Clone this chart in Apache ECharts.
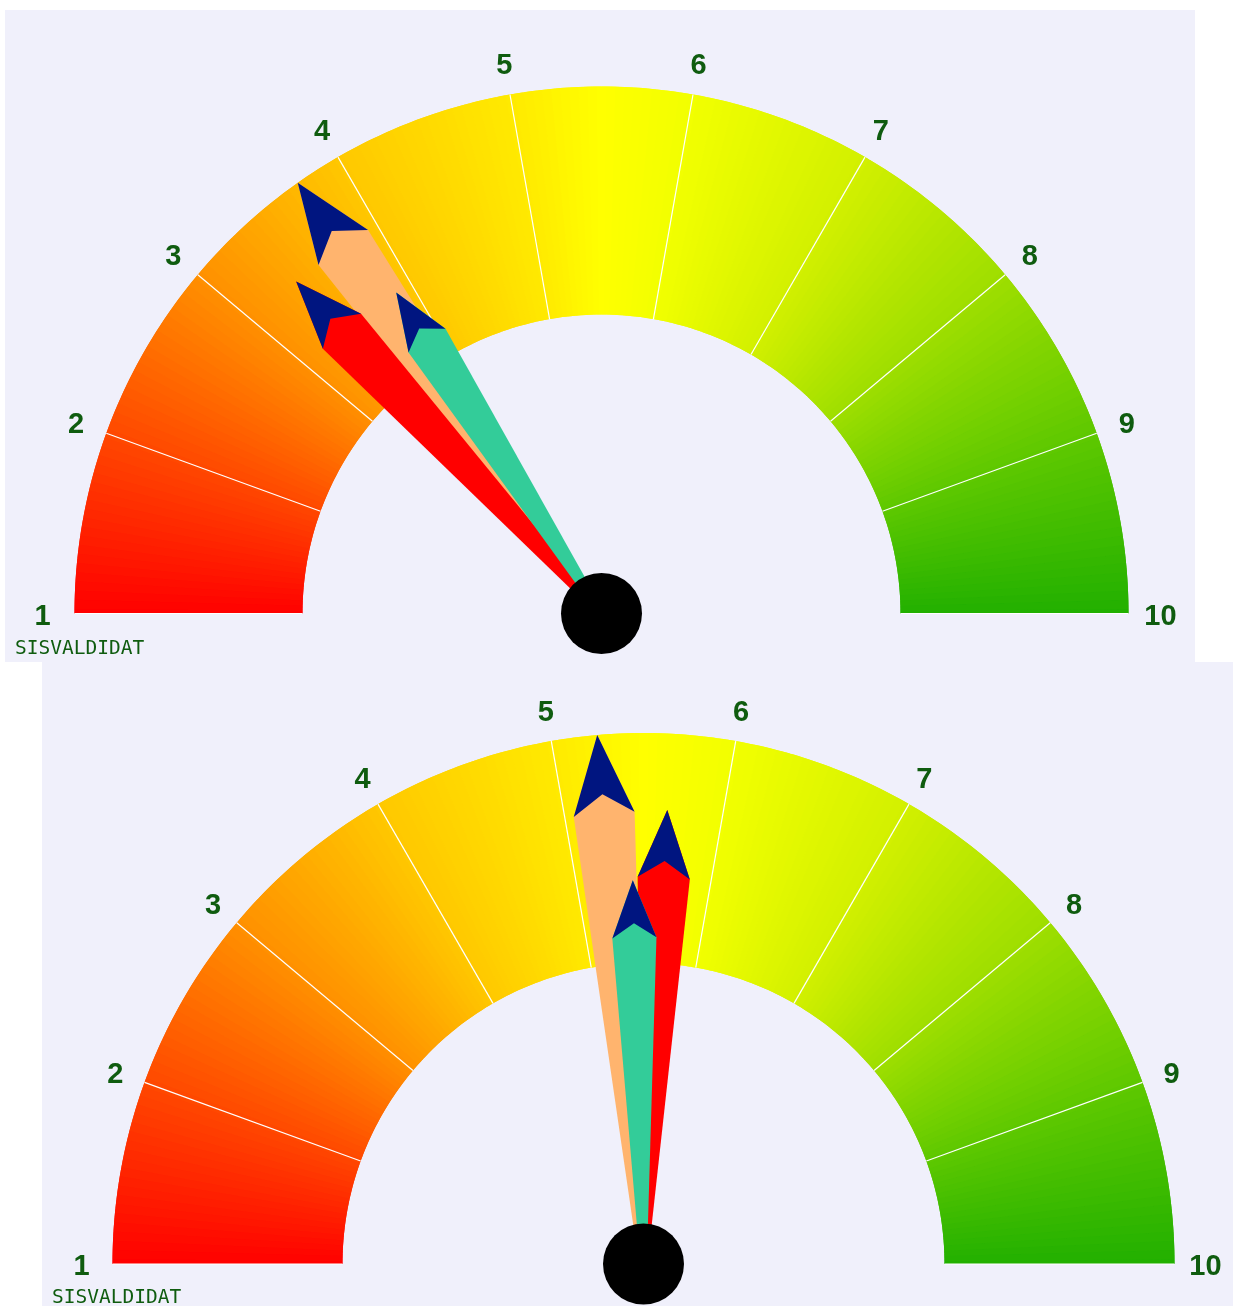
<!DOCTYPE html>
<html><head><meta charset="utf-8">
<script src="https://cdn.jsdelivr.net/npm/echarts@6/dist/echarts.min.js"></script>
<style>
html,body{margin:0;padding:0;background:#ffffff;width:1233px;height:1306px;overflow:hidden}
.panel{position:absolute}
</style></head><body>
<div id="g1" class="panel" style="left:5px;top:10px;width:1190px;height:652px"></div>
<div id="g2" class="panel" style="left:42px;top:662px;width:1191px;height:644px"></div>
<script>
// ---- data ----
const axisMin = 1;
const axisMax = 10;
const tickLabels = ['1', '2', '3', '4', '5', '6', '7', '8', '9', '10'];
const pointerNames = ['A', 'B', 'C'];
const gauge1Values = [3.74, 3.37, 3.87];
const gauge2Values = [5.25, 5.65, 5.42];
const gaugeCaption = 'SISVALDIDAT';

// ---- style ----
const bandColorStops = [
  [1, '#ff0000'], [2, '#ff4800'], [3, '#ff9000'], [4, '#ffc800'],
  [5, '#ffea00'], [5.5, '#ffff00'], [6, '#f2ff00'], [7, '#d2f000'],
  [8, '#9ede00'], [9, '#5ec800'], [10, '#22b000']
];
const pointerColors = ['#ffb46e', '#ff0000', '#33cc99'];
const pointerLenRatio = [1.0, 0.856, 0.723];
const headColor = '#001580';
const textColor = '#0f5c0f';
const bgColor = '#f0f0fb';
const labelFont = { fontSize: 29, fontFamily: 'Liberation Sans', fontWeight: 'bold' };

function hexToRgb(h) { return [1, 3, 5].map(i => parseInt(h.slice(i, i + 2), 16)); }
function colorAt(v) {
  v = Math.max(axisMin, Math.min(axisMax, v));
  for (let i = 0; i < bandColorStops.length - 1; i++) {
    const [v0, c0] = bandColorStops[i], [v1, c1] = bandColorStops[i + 1];
    if (v >= v0 && v <= v1) {
      const t = (v - v0) / (v1 - v0);
      const a = hexToRgb(c0), b = hexToRgb(c1);
      const m = a.map((x, k) => Math.round(x + (b[k] - x) * t));
      return 'rgb(' + m.join(',') + ')';
    }
  }
  return bandColorStops[bandColorStops.length - 1][1];
}
// shift = 0 or 0.5 : two layers with offset seams so no hairlines show
function bandColors(shift) {
  const N = 180, arr = [];
  for (let i = 0; i <= N; i++) {
    const end = Math.min(1, (i + shift) / N);
    if (end <= 0) continue;
    const v = axisMin + (axisMax - axisMin) * Math.max(0, (i + shift - 0.5) / N);
    arr.push([end, colorAt(v)]);
    if (end >= 1) break;
  }
  if (arr[arr.length - 1][0] < 1) arr.push([1, colorAt(axisMax)]);
  return arr;
}

// The gauge aligns its labels inward; padding per label re-centres each one
// on the label circle (extra = how far beyond the target circle the anchor sits).
function labelRich(extra, lift) {
  const rich = {};
  tickLabels.forEach((t, i) => {
    const th = (180 - 180 * i / (tickLabels.length - 1)) * Math.PI / 180;
    const ux = Math.cos(th), uy = -Math.sin(th);
    const dx = -extra * ux, dy = -extra * uy + lift;
    const tw = 16.1 * t.length, tH = 29;
    let pl = 0, pr = 0, pt = 0, pb = 0;
    if (ux < -0.4) pl = dx - tw / 2;
    else if (ux > 0.4) pr = -dx - tw / 2;
    else if (dx > 0) pl = 2 * dx; else pr = -2 * dx;
    if (uy < -0.8) pt = dy - tH / 2;
    else if (uy > 0.8) pb = -dy - tH / 2;
    else if (dy > 0) pt = 2 * dy; else pb = -2 * dy;
    rich['t' + i] = Object.assign({
      color: textColor,
      padding: [pt, pr, pb, pl].map(x => Math.max(0, Math.round(x * 10) / 10))
    }, labelFont);
  });
  return rich;
}

const BODY = 'path://M49 1000 L0 150 L57.5 0 L115 150 L66 1000 Z';
const HEAD = 'path://M57 1000 L58 1000 L57.5 999 Z M0 150 L57.5 0 L115 150 L57.5 112 Z';

function base(geo) {
  return {
    type: 'gauge', center: [geo.cx, geo.cy], radius: geo.r,
    startAngle: 180, endAngle: 0, min: axisMin, max: axisMax, splitNumber: 9,
    animation: false, title: { show: false }, detail: { show: false },
    axisTick: { show: false }, progress: { show: false }
  };
}

function makeOption(values, geo) {
  const series = [];
  const EXTRA = 30;
  [0, 0.5].forEach((shift, k) => {
    series.push(Object.assign(base(geo), {
      axisLine: { show: true, roundCap: false, lineStyle: { width: geo.w, color: bandColors(shift) } },
      splitLine: k === 1
        ? { show: true, distance: -geo.w, length: geo.w, lineStyle: { color: '#ffffff', width: 1.2 } }
        : { show: false },
      axisLabel: k === 1 ? Object.assign({
        show: true, distance: -(geo.gap + EXTRA), color: textColor,
        formatter: v => {
          const idx = Math.round(v) - axisMin;
          return '{t' + idx + '|' + tickLabels[idx] + '}';
        },
        rich: labelRich(EXTRA, 3)
      }, labelFont) : { show: false },
      pointer: { show: false }, anchor: { show: false },
      data: [{ value: values[0] }]
    }));
  });
  const mk = (i, icon, color, last) => Object.assign(base(geo), {
    axisLine: { show: false }, splitLine: { show: false }, axisLabel: { show: false },
    pointer: {
      show: true, icon: icon, keepAspect: false,
      length: geo.r * pointerLenRatio[i], width: geo.r * pointerLenRatio[i] * 0.115,
      itemStyle: { color: color }
    },
    itemStyle: { color: color },
    anchor: last ? { show: true, showAbove: true, size: 81, itemStyle: { color: '#000000', borderWidth: 0 } } : { show: false },
    data: [{ value: values[i], name: pointerNames[i] }]
  });
  for (let i = 0; i < values.length; i++) series.push(mk(i, BODY, pointerColors[i], false));
  for (let i = 0; i < values.length; i++) series.push(mk(i, HEAD, headColor, i === values.length - 1));
  return {
    backgroundColor: bgColor,
    animation: false,
    graphic: [{
      type: 'text', left: geo.capX, top: geo.capY,
      style: { text: gaugeCaption, font: '19.5px "DejaVu Sans Mono"', fill: textColor }
    }],
    series: series
  };
}

const c1 = echarts.init(document.getElementById('g1'));
c1.setOption(makeOption(gauge1Values, { cx: 596.5, cy: 603.5, r: 527, w: 228, gap: 32, capX: 10, capY: 629 }));
const c2 = echarts.init(document.getElementById('g2'));
c2.setOption(makeOption(gauge2Values, { cx: 601.5, cy: 602, r: 531, w: 230, gap: 31, capX: 10, capY: 626 }));
</script>
</body></html>
